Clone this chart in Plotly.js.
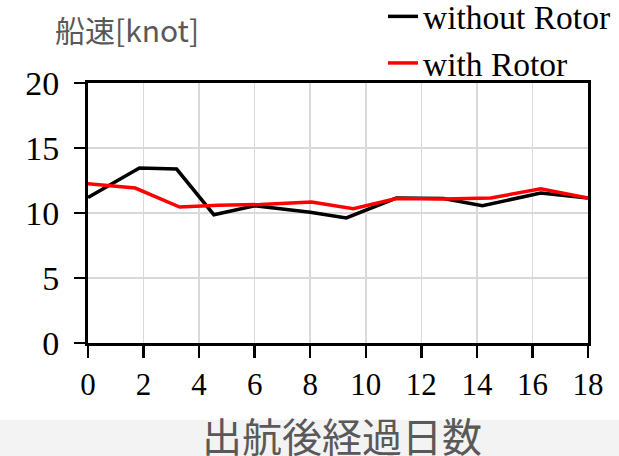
<!DOCTYPE html>
<html>
<head>
<meta charset="utf-8">
<script src="https://cdn.plot.ly/plotly-3.0.1.min.js"></script>
<style>
  html, body { margin: 0; padding: 0; background: #ffffff; }
  #chart { width: 619px; height: 456px; }
</style>
</head>
<body>
<div id="chart"></div>
<script>
// Days after departure and ship speed [knot]
const daysWithout = [0, 1.85, 3.19, 4.53, 6.0, 8.0, 9.3, 11.1, 12.8, 14.2, 16.3, 18];
const speedWithout = [11.2, 13.46, 13.38, 9.87, 10.55, 10.05, 9.62, 11.15, 11.12, 10.56, 11.54, 11.15];

const daysWith = [0, 1.7, 3.3, 4.7, 6.2, 8.05, 9.55, 11.1, 12.8, 14.5, 16.3, 18];
const speedWith = [12.25, 11.92, 10.46, 10.6, 10.65, 10.85, 10.33, 11.12, 11.08, 11.15, 11.87, 11.15];

const seriesNames = ["without Rotor", "with Rotor"];
const xTicks = [0, 2, 4, 6, 8, 10, 12, 14, 16, 18];
const yTicks = [0, 5, 10, 15, 20];
const yTitleText = "船速[knot]";
const xTitleText = "出航後経過日数";

const serif = "Liberation Serif, Times New Roman, serif";
const cjk = "Noto Sans CJK JP, sans-serif";

const traces = [
  { x: daysWithout, y: speedWithout, name: seriesNames[0], mode: "lines",
    line: { color: "#000000", width: 3.5 } },
  { x: daysWith, y: speedWith, name: seriesNames[1], mode: "lines",
    line: { color: "#ff0000", width: 3.5 } }
];

const layout = {
  width: 619, height: 456,
  margin: { l: 88, r: 31, t: 83, b: 113, autoexpand: false },
  paper_bgcolor: "#ffffff",
  plot_bgcolor: "#ffffff",
  showlegend: true,
  legend: {
    x: 1.056, xanchor: "right",
    yref: "paper", y: 1.365, yanchor: "top",
    font: { family: serif, size: 33.5, color: "#000000" },
    bgcolor: "rgba(0,0,0,0)",
    tracegroupgap: 0
  },
  xaxis: {
    range: [0, 18],
    tickvals: xTicks,
    ticktext: xTicks.map(String),
    showgrid: true, gridcolor: "#d9d9d9", gridwidth: 1.5,
    zeroline: false,
    showline: true, linecolor: "#000000", linewidth: 3, mirror: true,
    ticks: "outside", ticklen: 12, tickwidth: 2.5, tickcolor: "#000000",
    tickfont: { family: serif, size: 31, color: "#000000" },
    automargin: false
  },
  yaxis: {
    range: [0, 20],
    tickvals: yTicks,
    ticktext: yTicks.map(String),
    showgrid: true, gridcolor: "#d9d9d9", gridwidth: 1.5,
    zeroline: false,
    showline: true, linecolor: "#000000", linewidth: 3, mirror: true,
    ticks: "outside", ticklen: 11, tickwidth: 2.5, tickcolor: "#000000",
    tickfont: { family: serif, size: 34, color: "#000000" },
    ticklabelstandoff: 8,
    automargin: false
  },
  shapes: [
    { type: "rect", xref: "paper", yref: "paper", layer: "below",
      x0: -0.2, x1: 1.1, y0: -0.5, y1: -0.295,
      fillcolor: "#f3f3f3", line: { width: 0 } }
  ],
  annotations: [
    { text: yTitleText, xref: "paper", yref: "paper",
      x: -0.07, xanchor: "left", y: 1.206, yanchor: "middle",
      showarrow: false, font: { family: cjk, size: 30, color: "#595959" } },
    { text: xTitleText, xref: "paper", yref: "paper",
      x: 0.508, xanchor: "center", y: -0.355, yanchor: "middle",
      showarrow: false, font: { family: cjk, size: 40, color: "#595959" } }
  ]
};

Plotly.newPlot("chart", traces, layout, { displayModeBar: false, staticPlot: true });
</script>
</body>
</html>
